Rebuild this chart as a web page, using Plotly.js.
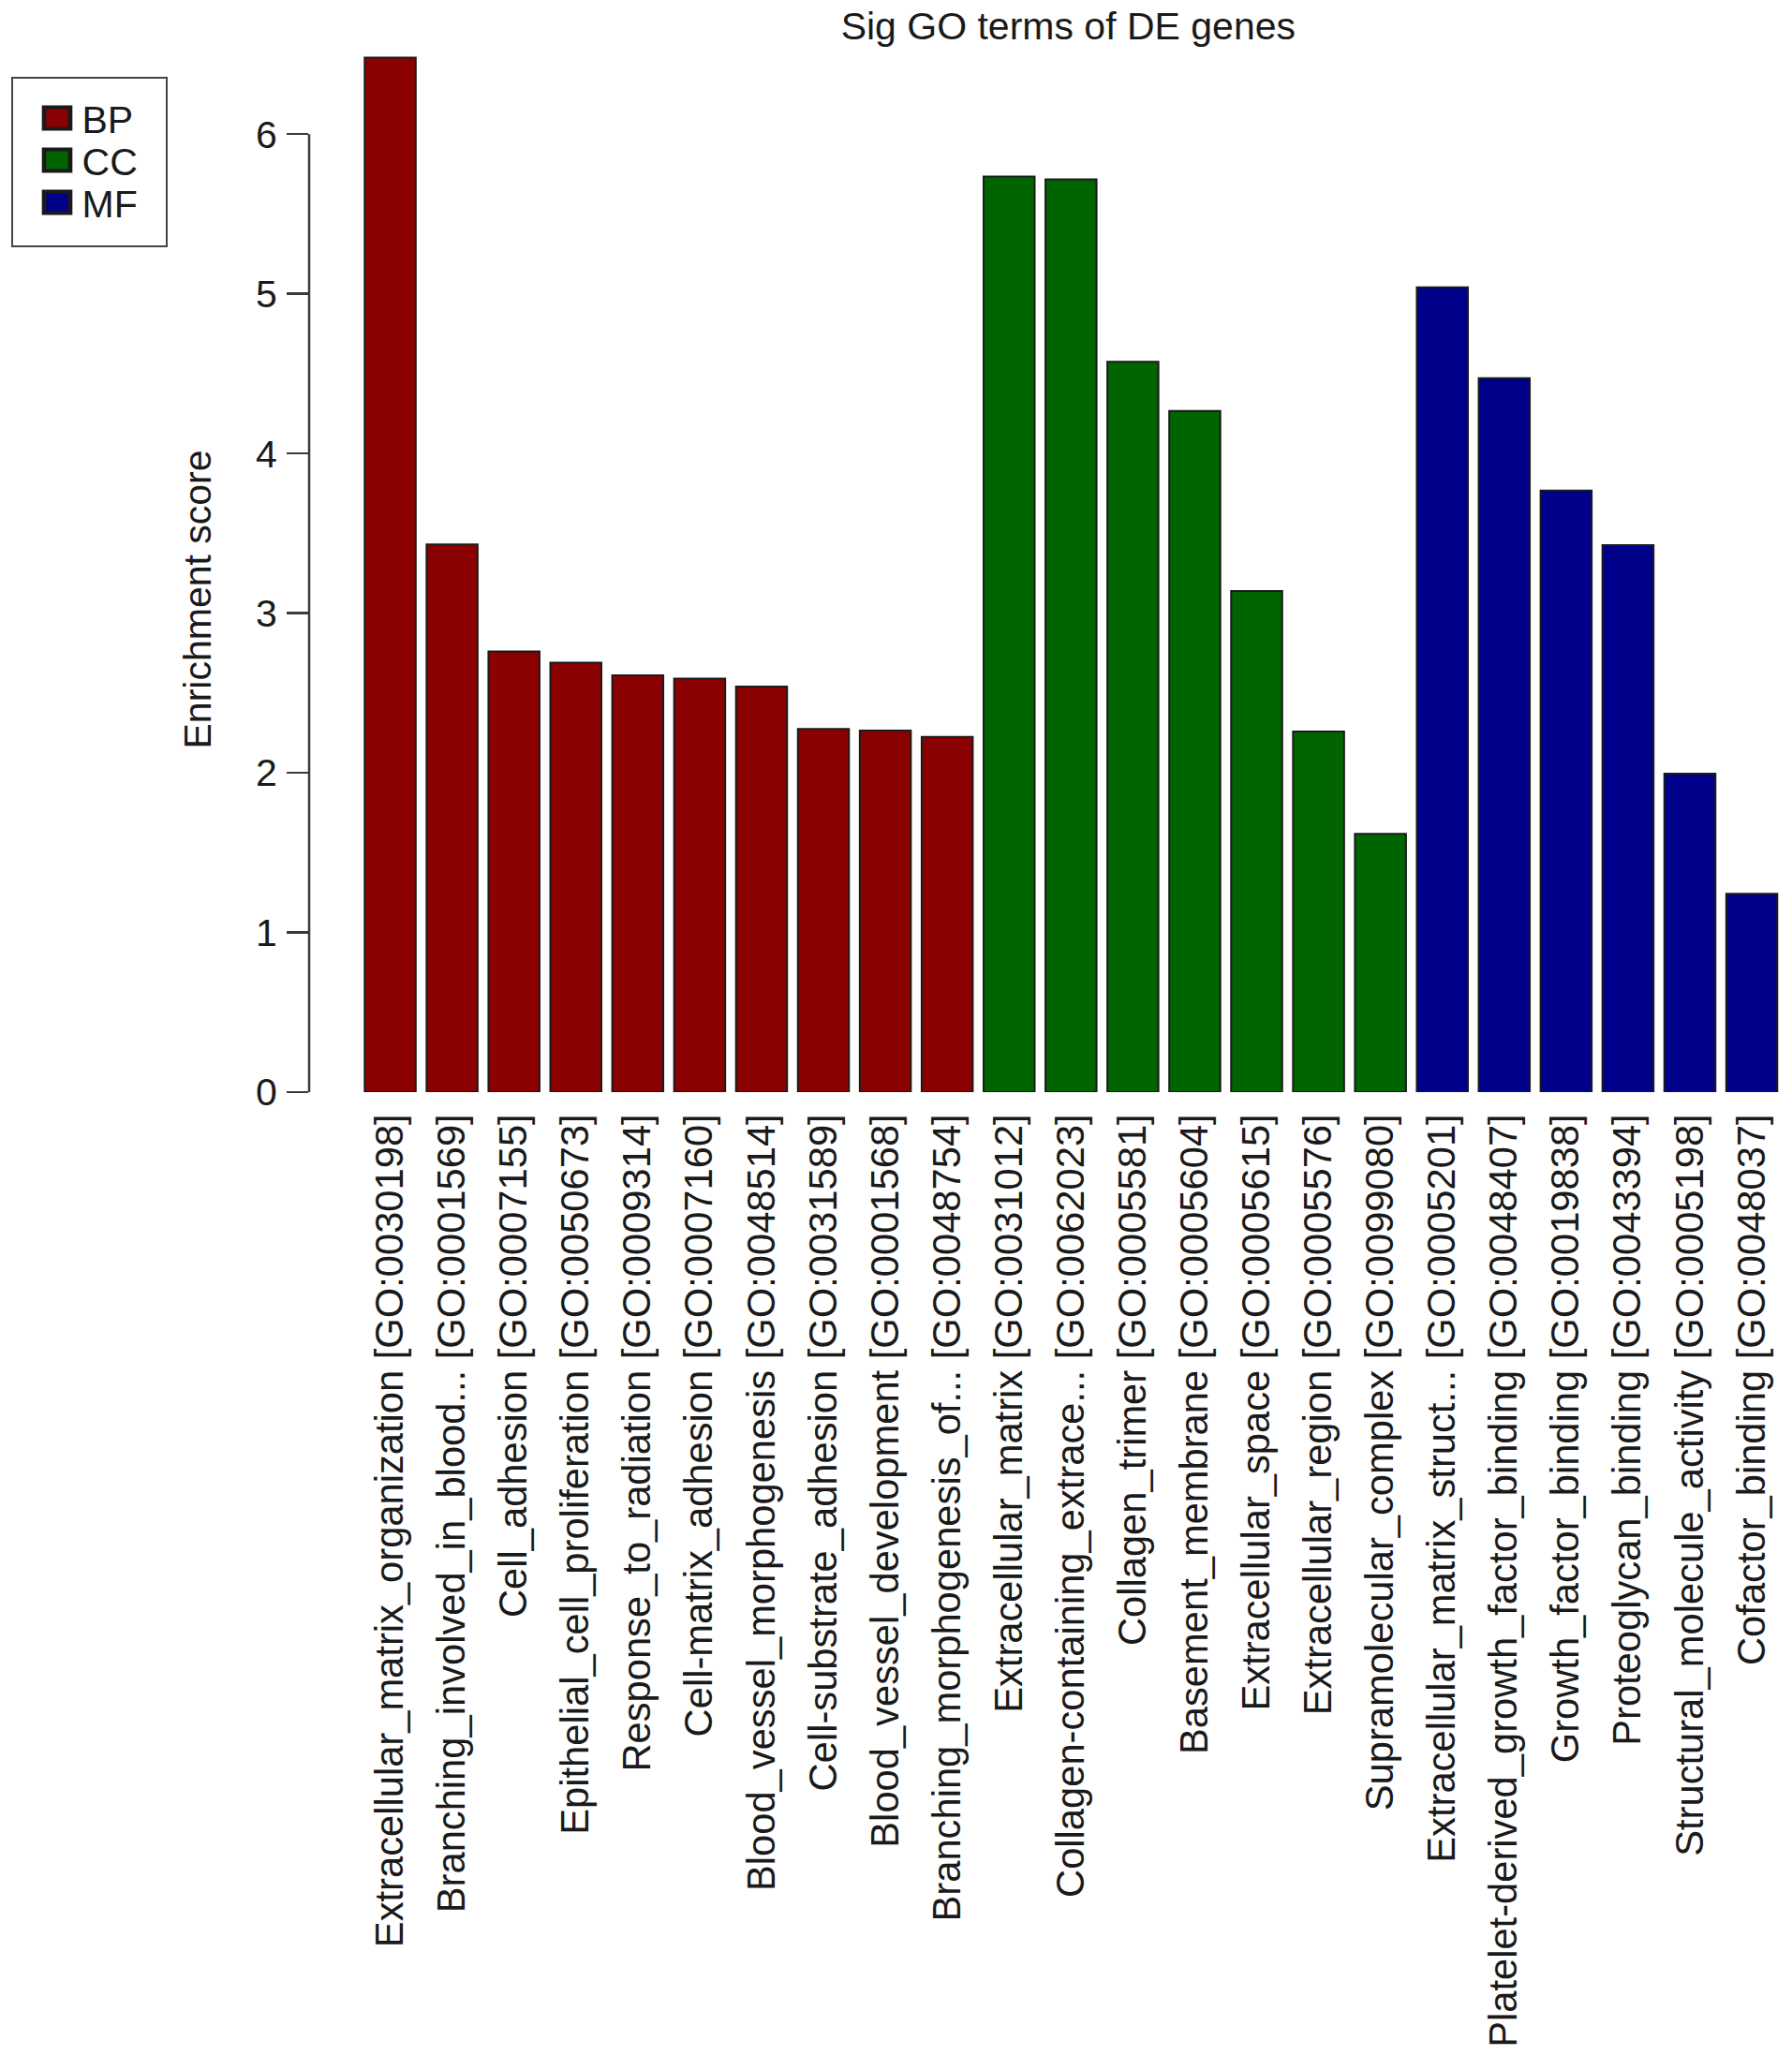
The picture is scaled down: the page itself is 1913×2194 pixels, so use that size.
<!DOCTYPE html>
<html>
<head>
<meta charset="utf-8">
<script src="https://cdn.plot.ly/plotly-3.0.1.min.js"></script>
<style>
  html, body { margin: 0; padding: 0; background: #ffffff; }
  #chart { width: 1913px; height: 2194px; }
</style>
</head>
<body>
<div id="chart"></div>
<script>
// ---- Data ----
const bpTerms = [
  "Extracellular_matrix_organization [GO:0030198]",
  "Branching_involved_in_blood... [GO:0001569]",
  "Cell_adhesion [GO:0007155]",
  "Epithelial_cell_proliferation [GO:0050673]",
  "Response_to_radiation [GO:0009314]",
  "Cell-matrix_adhesion [GO:0007160]",
  "Blood_vessel_morphogenesis [GO:0048514]",
  "Cell-substrate_adhesion [GO:0031589]",
  "Blood_vessel_development [GO:0001568]",
  "Branching_morphogenesis_of... [GO:0048754]"
];
const bpScores = [6.48, 3.43, 2.76, 2.69, 2.61, 2.59, 2.54, 2.275, 2.265, 2.225];

const ccTerms = [
  "Extracellular_matrix [GO:0031012]",
  "Collagen-containing_extrace... [GO:0062023]",
  "Collagen_trimer [GO:0005581]",
  "Basement_membrane [GO:0005604]",
  "Extracellular_space [GO:0005615]",
  "Extracellular_region [GO:0005576]",
  "Supramolecular_complex [GO:0099080]"
];
const ccScores = [5.735, 5.717, 4.575, 4.266, 3.139, 2.259, 1.617];

const mfTerms = [
  "Extracellular_matrix_struct... [GO:0005201]",
  "Platelet-derived_growth_factor_binding [GO:0048407]",
  "Growth_factor_binding [GO:0019838]",
  "Proteoglycan_binding [GO:0043394]",
  "Structural_molecule_activity [GO:0005198]",
  "Cofactor_binding [GO:0048037]"
];
const mfScores = [5.041, 4.472, 3.768, 3.426, 1.995, 1.242];

const yTickValues = [0, 1, 2, 3, 4, 5, 6];
const yTickLabels = ["0", "1", "2", "3", "4", "5", "6"];

const chartTitle = "Sig GO terms of DE genes";
const yTitle = "Enrichment score";

// ---- Styling ----
const FONT = "'Liberation Sans', Arial, Helvetica, sans-serif";
const TEXT = "#1a1a1a";
const AXIS = "#3a3a3a";
const colors = { BP: "#8B0000", CC: "#006400", MF: "#00008B" };

function barTrace(name, terms, scores) {
  return {
    type: "bar",
    name: name,
    x: terms,
    y: scores,
    marker: { color: colors[name], line: { color: "#1a1a1a", width: 2 } },
    hoverinfo: "x+y"
  };
}

const data = [
  barTrace("BP", bpTerms, bpScores),
  barTrace("CC", ccTerms, ccScores),
  barTrace("MF", mfTerms, mfScores)
];

const allTerms = bpTerms.concat(ccTerms, mfTerms);

const layout = {
  width: 1913,
  height: 2194,
  paper_bgcolor: "#ffffff",
  plot_bgcolor: "#ffffff",
  font: { family: FONT, size: 41, color: TEXT },
  margin: { l: 330, r: 13, t: 58, b: 1028, autoexpand: false },
  barmode: "overlay",
  bargap: 0.175,
  showlegend: true,
  title: {
    text: chartTitle,
    font: { family: FONT, size: 41, color: TEXT },
    xref: "container", yref: "container",
    x: 0.5961, xanchor: "center",
    y: 0.9872, yanchor: "middle"
  },
  xaxis: {
    type: "category",
    categoryorder: "array",
    categoryarray: allTerms,
    range: [-1.31, 22.453],
    tickangle: -90,
    ticks: "",
    showline: false,
    showgrid: false,
    zeroline: false,
    ticklabelstandoff: 14,
    tickfont: { family: FONT, size: 41.7, color: TEXT },
    fixedrange: true
  },
  yaxis: {
    range: [0, 6.5],
    tickvals: yTickValues,
    ticktext: yTickLabels,
    ticks: "outside",
    ticklen: 23,
    tickwidth: 2.5,
    tickcolor: AXIS,
    ticklabelstandoff: 2,
    showline: false,
    showgrid: false,
    zeroline: false,
    tickfont: { family: FONT, size: 41, color: TEXT },
    fixedrange: true
  },
  shapes: [
    {
      type: "line", xref: "paper", yref: "y",
      x0: 0, x1: 0, y0: yTickValues[0], y1: yTickValues[yTickValues.length - 1],
      line: { color: AXIS, width: 2.5 }
    }
  ],
  annotations: [
    {
      text: yTitle,
      xref: "paper", yref: "paper",
      x: -0.0758, y: 0.4752,
      xanchor: "center", yanchor: "middle",
      textangle: -90,
      showarrow: false,
      font: { family: FONT, size: 41, color: TEXT }
    }
  ],
  legend: {
    x: -0.2019, xanchor: "left",
    y: 0.9774, yanchor: "top",
    bgcolor: "#ffffff",
    bordercolor: "#444444",
    borderwidth: 2.5,
    font: { family: FONT, size: 41, color: TEXT },
    itemwidth: 62,
    tracegroupgap: 0
  }
};

// Legend box geometry of the reference (page pixels): box, swatch centre x, row centres
const LEG_BOX = { left: 13, right: 178, top: 83, bottom: 263 };
const LEG_SWATCH_X = 61;
const LEG_ROW_Y = [128, 173, 218];

function tuneLegend() {
  const legend = document.querySelector(".legend");
  if (!legend) return;
  // rows
  const traces = legend.querySelectorAll(".traces");
  traces.forEach(function (t, i) {
    const m = /translate\(\s*([-\d.]+)[ ,]+([-\d.]+)\s*\)/.exec(t.getAttribute("transform") || "");
    if (!m) return;
    const txt = t.querySelector("text");
    if (!txt) return;
    const r = txt.getBoundingClientRect();
    const cy = r.top + r.height / 2;
    const target = LEG_ROW_Y[i] !== undefined ? LEG_ROW_Y[i] : cy;
    const ny = parseFloat(m[2]) + (target - cy);
    t.setAttribute("transform", "translate(" + m[1] + "," + ny + ")");
  });
  // swatches
  legend.querySelectorAll(".legendpoints path").forEach(function (p) {
    p.removeAttribute("transform");
    const r = p.getBoundingClientRect();
    const cx = r.left + r.width / 2;
    p.setAttribute("transform", "translate(" + (LEG_SWATCH_X - cx) + ",0) scale(2.33,1.92)");
  });
  // box
  const bg = legend.querySelector("rect.bg");
  if (bg) {
    const r = bg.getBoundingClientRect();
    const w = parseFloat(bg.getAttribute("width"));
    const h = parseFloat(bg.getAttribute("height"));
    const x = parseFloat(bg.getAttribute("x") || 0);
    const y = parseFloat(bg.getAttribute("y") || 0);
    bg.setAttribute("x", x + (LEG_BOX.left - r.left));
    bg.setAttribute("y", y + (LEG_BOX.top - r.top));
    bg.setAttribute("width", w + (LEG_BOX.right - LEG_BOX.left) - r.width);
    bg.setAttribute("height", h + (LEG_BOX.bottom - LEG_BOX.top) - r.height);
  }
}

Plotly.newPlot("chart", data, layout, { displayModeBar: false, staticPlot: true }).then(function () {
  try { tuneLegend(); } catch (e) { /* keep default legend */ }
});
</script>
</body>
</html>
